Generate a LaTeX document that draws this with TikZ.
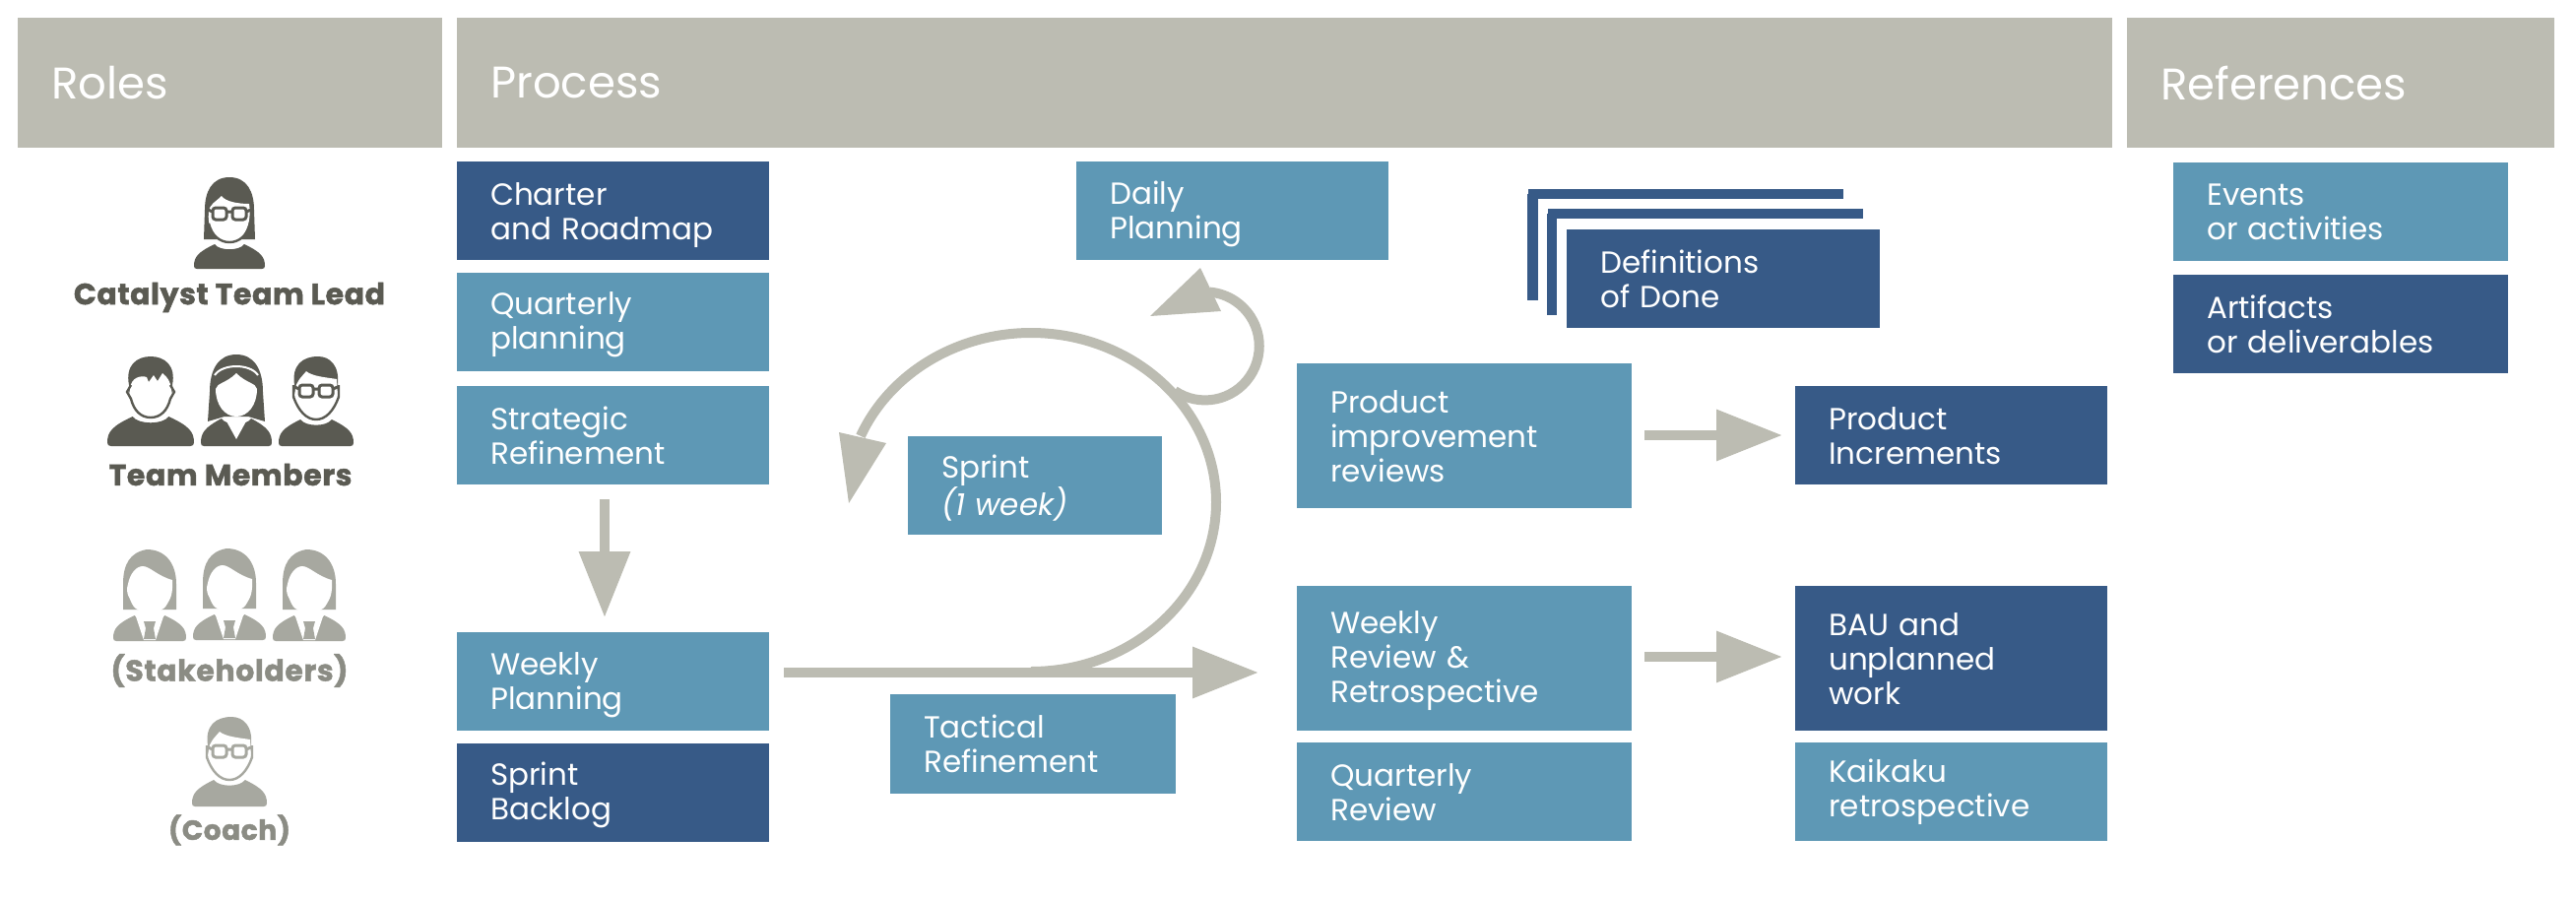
\documentclass[tikz,border=0pt]{standalone}
\usepackage{fontspec}
\setmainfont{Poppins}
\newfontfamily\heavyfont[FakeBold=1.6,LetterSpace=2]{Poppins Bold}
\usetikzlibrary{arrows.meta}
\definecolor{lightblue}{HTML}{5E98B5}
\definecolor{darkblue}{HTML}{375A87}
\definecolor{headgray}{HTML}{BCBCB2}
\definecolor{icondark}{HTML}{5A5A52}
\definecolor{iconlight}{HTML}{A7A8A0}
\definecolor{labellight}{HTML}{8B8C84}
\newcommand\bx[7]{\node[#1,anchor=north west,minimum width=\dimexpr#5pt-#3pt\relax,minimum height=\dimexpr#6pt-#4pt\relax,text width=\dimexpr#5pt-#3pt-68pt\relax] (#2) at (#3,#4) {#7};}
\newcommand\dn[2]{\raisebox{-#1}[\height][\depth]{#2}}
% icon parts; colour ic is set with \colorlet
\newcommand\bodyshape[2]{\fill[ic,xscale=#1/36,yscale=#2/25] (-36,-3) .. controls (-36,-12) and (-32,-17) .. (-15,-25) .. controls (-10,-18) and (10,-18) .. (15,-25) .. controls (32,-17) and (36,-12) .. (36,-3) .. controls (36,-1) and (35,0) .. (33,0) -- (-33,0) .. controls (-35,0) and (-36,-1) .. (-36,-3) -- cycle;}
\newcommand\lens[1]{\draw[ic,line width=3pt,fill=white,rounded corners=3pt] (#1-7,-62) rectangle (#1+7,-50);}
\newcommand\specs{\lens{-10}\lens{10}\draw[ic,line width=3pt] (-3,-58)--(3,-58) (-17,-58)--(-22,-60) (17,-58)--(22,-60);}
\newcommand\leadicon{\bodyshape{36}{25}
 \fill[ic] (0,-93) .. controls (-18,-93) and (-25,-78) .. (-25,-60) -- (-26,-30) -- (26,-30) -- (25,-60) .. controls (25,-78) and (18,-93) .. (0,-93) -- cycle;
 \fill[white] (-21,-58) .. controls (-20,-66) and (-14,-68) .. (-8,-74) .. controls (-4,-68) and (10,-66) .. (20,-66) .. controls (23,-48) and (16,-27) .. (0,-27) .. controls (-16,-27) and (-23,-44) .. (-21,-58) -- cycle;
 \draw[ic,line width=2.4pt] (-21,-46) .. controls (-18,-34) and (-10,-27) .. (0,-27) .. controls (10,-27) and (18,-34) .. (21,-46);
 \specs}
\newcommand\manicon{\bodyshape{44}{30}
 \fill[ic] (-22,-62) .. controls (-26,-82) and (-14,-91) .. (0,-91) .. controls (14,-91) and (26,-82) .. (22,-62) -- (22,-50) -- (-22,-50) -- cycle;
 \fill[white] (-21,-58) .. controls (-20,-70) and (-10,-72) .. (-4,-70) -- (-2,-65) -- (3,-72) -- (7,-66) -- (12,-74) .. controls (17,-70) and (20,-66) .. (21,-58) -- (22,-52) .. controls (20,-38) and (12,-29) .. (0,-29) .. controls (-12,-29) and (-20,-38) .. (-22,-52) -- cycle;
 \draw[ic,line width=2.4pt] (-20,-62) -- (-24,-55) -- (-20,-48) .. controls (-17,-36) and (-10,-29) .. (0,-29) .. controls (10,-29) and (17,-36) .. (20,-48) -- (24,-55) -- (20,-62);}
\newcommand\womanicon{\bodyshape{36}{28}
 \fill[white] (-11,-27) -- (0,-7) -- (11,-27) -- cycle;
 \fill[ic] (0,-93) .. controls (-18,-93) and (-27,-78) .. (-27,-55) -- (-29,-25) -- (-12,-30) -- (12,-30) -- (29,-25) -- (27,-55) .. controls (27,-78) and (18,-93) .. (0,-93) -- cycle;
 \fill[white] (-21,-58) .. controls (-20,-64) and (-10,-64) .. (0,-74) .. controls (10,-64) and (20,-64) .. (21,-58) .. controls (21,-42) and (12,-30) .. (0,-30) .. controls (-12,-30) and (-21,-42) .. (-21,-58) -- cycle;
 \draw[white,line width=2pt] (-22,-72) .. controls (-14,-84) and (14,-84) .. (22,-72);}
\newcommand\glassmanicon{\bodyshape{38}{27}
 \fill[ic] (-22,-62) .. controls (-25,-82) and (-14,-91) .. (2,-91) .. controls (14,-91) and (24,-82) .. (22,-62) -- (22,-50) -- (-22,-50) -- cycle;
 \fill[white] (-21,-58) .. controls (-20,-66) and (-15,-70) .. (-10,-76) .. controls (-4,-71) and (8,-70) .. (21,-68) -- (22,-52) .. controls (20,-38) and (12,-27) .. (0,-27) .. controls (-12,-27) and (-20,-38) .. (-22,-52) -- cycle;
 \draw[ic,line width=2.4pt] (-23,-62) -- (-23,-50) .. controls (-18,-36) and (-10,-27) .. (0,-27) .. controls (10,-27) and (18,-36) .. (23,-50) -- (23,-62);
 \specs}
\newcommand\stakeicon{\bodyshape{37}{26}
 \fill[white] (-15,-28) -- (-6,-1) -- (6,-1) -- (15,-28) -- cycle;
 \fill[ic] (-6,-20) -- (6,-20) -- (4,-13) -- (6,-2) -- (-6,-2) -- (-4,-13) -- cycle;
 \fill[ic] (-3,-93) .. controls (-20,-90) and (-27,-78) .. (-27,-58) -- (-27,-32) -- (27,-32) -- (27,-58) .. controls (27,-80) and (15,-93) .. (-3,-93) -- cycle;
 \fill[white] (-22,-58) .. controls (-20,-68) and (-14,-76) .. (-7,-76) .. controls (0,-76) and (8,-66) .. (23,-62) .. controls (24,-46) and (20,-42) .. (18,-38) .. controls (14,-30) and (6,-29) .. (0,-29) .. controls (-6,-29) and (-14,-30) .. (-18,-38) .. controls (-20,-44) and (-25,-48) .. (-22,-58) -- cycle;}
\newcommand\iconat[4]{\begin{scope}[shift={(#1,#2)}]\colorlet{ic}{#3}#4\end{scope}}
\tikzset{
 base/.style={rectangle,inner ysep=0pt,inner xsep=34pt,align=left,text=white,font=\fontsize{31}{35}\selectfont},
 evbox/.style={base,fill=lightblue},
 artbox/.style={base,fill=darkblue},
 headbox/.style={rectangle,fill=headgray,inner ysep=0pt,inner xsep=34pt,align=left,text=white,font=\fontsize{45}{50}\selectfont},
 rolelabel/.style={inner sep=0pt,font=\fontsize{30}{32}\heavyfont},
 coachlabel/.style={inner sep=0pt,font=\fontsize{28}{32}\heavyfont},
 flow/.style={draw=headgray,line width=10pt},
 flowtip/.style={-{Triangle[length=67pt,width=50pt,fill=headgray]}},
 stackbar/.style={fill=darkblue,draw=none},
 headfill/.style={fill=headgray,draw=none}
}
\begin{document}
\begin{tikzpicture}[x=1pt,y=-1pt]
\useasboundingbox (0,0) rectangle (2616,914);
% headers
\bx{headbox}{hroles}{18}{18}{449}{150}{Roles}
\bx{headbox}{hprocess}{464}{18}{2145}{150}{Process}
\bx{headbox}{hrefs}{2160}{18}{2594}{150}{References}
% roles
\iconat{233}{273}{icondark}{\leadicon}
\node[rolelabel,text=icondark] (lead) at (233,302) {Catalyst Team Lead};
\iconat{153}{453}{icondark}{\manicon}
\iconat{240}{453}{icondark}{\womanicon}
\iconat{321}{453}{icondark}{\glassmanicon}
\node[rolelabel,text=icondark] (members) at (234,482) {Team Members};
\iconat{152}{651}{iconlight}{\stakeicon}
\iconat{233}{650}{iconlight}{\stakeicon}
\iconat{314}{651}{iconlight}{\stakeicon}
\node[rolelabel,text=labellight] (stake) at (233,681) {(Stakeholders)};
\iconat{233}{819}{iconlight}{\glassmanicon}
\node[coachlabel,text=labellight] (coach) at (233,843) {(Coach)};
% left column
\bx{artbox}{charter}{464}{164}{781}{264}{\dn{4pt}{Charter}\\\dn{4pt}{and Roadmap}}
\bx{evbox}{qplan}{464}{277}{781}{377}{\dn{3pt}{Quarterly}\\\dn{3pt}{planning}}
\bx{evbox}{strat}{464}{392}{781}{492}{Strategic\\Refinement}
\bx{evbox}{wplan}{464}{642}{781}{742}{\dn{4pt}{Weekly}\\\dn{4pt}{Planning}}
\bx{artbox}{backlog}{464}{755}{781}{855}{\dn{2pt}{Sprint}\\\dn{2pt}{Backlog}}
% middle
\bx{evbox}{daily}{1093}{164}{1410}{264}{\dn{3pt}{Daily}\\\dn{3pt}{Planning}}
\bx{evbox}{sprint}{922}{443}{1180}{543}{\dn{2pt}{Sprint}\\\dn{2pt}{\textit{(1 week)}}}
\bx{evbox}{tact}{904}{705}{1194}{806}{Tactical\\Refinement}
% definitions stack
\fill[stackbar] (1552,192) rectangle (1872,202);
\fill[stackbar] (1551,197) rectangle (1562,305);
\fill[stackbar] (1572,212) rectangle (1892,222);
\fill[stackbar] (1571,217) rectangle (1581,320);
\bx{artbox}{dod}{1591}{233}{1909}{333}{Definitions\\of Done}
% right columns
\bx{evbox}{pir}{1317}{369}{1657}{516}{Product\\improvement\\reviews}
\bx{evbox}{wrr}{1317}{595}{1657}{742}{\dn{2pt}{Weekly}\\\dn{2pt}{Review \&}\\\dn{2pt}{Retrospective}}
\bx{evbox}{qrev}{1317}{754}{1657}{854}{Quarterly\\Review}
\bx{artbox}{pinc}{1823}{392}{2140}{492}{Product\\Increments}
\bx{artbox}{bau}{1823}{595}{2140}{742}{BAU and\\unplanned\\work}
\bx{evbox}{kai}{1823}{754}{2140}{854}{Kaikaku\\retrospective}
% references
\bx{evbox}{evref}{2207}{165}{2547}{265}{Events\\or activities}
\bx{artbox}{artref}{2207}{279}{2547}{379}{Artifacts\\or deliverables}
% connectors
\coordinate (mainstart) at (796,683);
\coordinate (mainend) at (1278,683);
\coordinate (curvestart) at (1047,682);
\coordinate (loopstart) at (1193,397);
\coordinate (sa) at (614,507);
\coordinate (sb) at (614,627);
\draw[flow,flowtip] (sa) -- (sb);
\coordinate (pa) at (1670,442);
\coordinate (pb) at (1810,442);
\coordinate (wa) at (1670,667);
\coordinate (wb) at (1810,667);
\draw[flow,flowtip] (pa) -- (pb);
\draw[flow,flowtip] (wa) -- (wb);
\draw[flow,flowtip] (mainstart) -- (mainend);
\draw[flow] (curvestart) arc[start angle=-90,end angle=157,x radius=188pt,y radius=172pt];
\fill[headfill] (852,439) -- (900,450) -- (862,511) -- cycle;
\draw[flow] (loopstart) arc[start angle=-124,end angle=85,radius=55pt];
\fill[headfill] (1219,272) -- (1240,316) -- (1168,321) -- cycle;
\end{tikzpicture}
\end{document}
